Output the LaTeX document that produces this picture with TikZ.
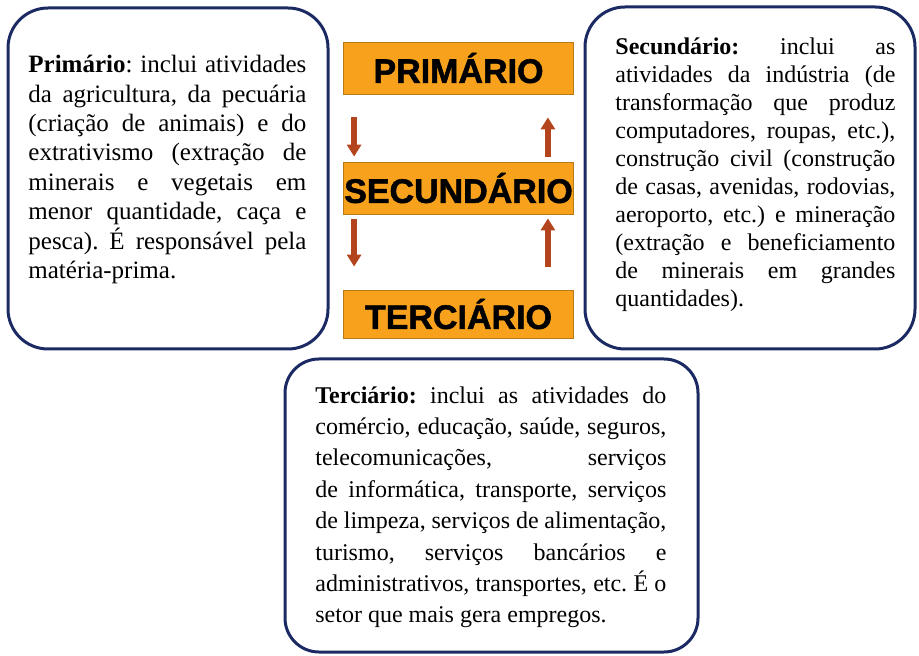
\documentclass[tikz,border=0pt]{standalone}
\usepackage{fontspec}
\setmainfont{Liberation Serif}
\newfontfamily\rotulo{Liberation Sans}[UprightFont=* Bold, UprightFeatures={FakeBold=1.5}]
\usepackage{xcolor}
\usetikzlibrary{arrows.meta}
\definecolor{azulborda}{HTML}{1C2A63}
\definecolor{laranja}{HTML}{F7A11C}
\definecolor{ferrugem}{HTML}{B4441D}

\begin{document}
\begin{tikzpicture}[x=0.5pt, y=-0.5pt,
    caixa/.style={draw=azulborda, line width=1.5pt, rounded corners=20pt},
    setor/.style={fill=laranja, draw=laranja!75!black, line width=0.4pt, minimum width=115pt, minimum height=26pt, inner sep=0pt, font=\rotulo\fontsize{17pt}{17pt}\selectfont},
    texto/.style={anchor=north west, inner sep=0pt, align=justify},
    seta/.style={draw=ferrugem, line width=2.8pt, -{Triangle[width=7pt,length=6pt]}}]
        \useasboundingbox (0, 0) rectangle (919, 656);
        \node[caixa, minimum width=160pt, minimum height=170.5pt] (cxprim) at (168, 178.5) {};
        \node[caixa, minimum width=165pt, minimum height=171pt] (cxsec) at (750, 178) {};
        \node[caixa, minimum width=206.5pt, minimum height=146.5pt, rounded corners=17pt] (cxterc) at (491.5, 505.5) {};
        \node[setor] (prim) at (458.5, 68) {PRIMÁRIO};
        \node[setor] (sec) at (458.5, 188) {SECUNDÁRIO};
        \node[setor, minimum height=24pt] (terc) at (458.5, 314) {TERCIÁRIO};
        \draw[seta, shorten <=11.5pt, shorten >=2.5pt] ([xshift=5.5pt]prim.south west) -- ([xshift=5.5pt]sec.north west);
        \draw[seta, shorten <=2.5pt, shorten >=11.5pt] ([xshift=-13pt]sec.north east) -- ([xshift=-13pt]prim.south east);
        \draw[seta, shorten <=2.5pt, shorten >=11.5pt] ([xshift=5.5pt]sec.south west) -- ([xshift=5.5pt]terc.north west);
        \draw[seta, shorten <=11.5pt, shorten >=2pt] ([xshift=-13pt]terc.north east) -- ([xshift=-13pt]sec.south east);
        \node[texto, text width=139pt, font=\fontsize{12.5pt}{14.7pt}\selectfont] (txprim) at (28, 55) {\noindent\frenchspacing
            \textbf{Primário}: inclui atividades\linebreak da agricultura, da pecuária\linebreak (criação de animais) e do\linebreak extrativismo (extração de\linebreak minerais e vegetais em\linebreak menor quantidade, caça e\linebreak pesca). É responsável pela\linebreak matéria-prima.};
        \node[texto, text width=140pt, font=\fontsize{12pt}{14pt}\selectfont] (txsec) at (615, 37) {\noindent\frenchspacing
            \textbf{Secundário:} inclui as\linebreak atividades da indústria (de\linebreak transformação que produz\linebreak computadores, roupas, etc.),\linebreak construção civil (construção\linebreak de casas, avenidas, rodovias,\linebreak aeroporto, etc.) e mineração\linebreak (extração e beneficiamento\linebreak de minerais em grandes\linebreak quantidades).};
        \node[texto, text width=175.5pt, font=\fontsize{12pt}{15.7pt}\selectfont] (txterc) at (315, 386) {\noindent\frenchspacing
            \textbf{Terciário:} inclui as atividades do\linebreak comércio, educação, saúde, seguros,\linebreak telecomunicações, serviços\linebreak de informática, transporte, serviços\linebreak de limpeza, serviços de alimentação,\linebreak turismo, serviços bancários e\linebreak administrativos, transportes, etc. É o\linebreak setor que mais gera empregos.};
    \end{tikzpicture}
\end{document}
